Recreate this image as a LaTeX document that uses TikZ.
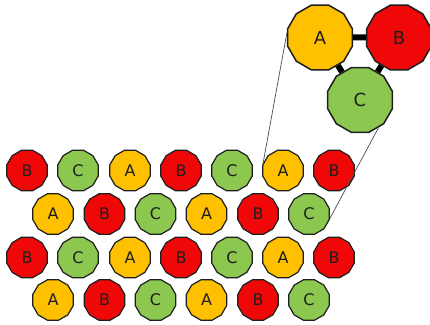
\documentclass[tikz,border=0pt]{standalone}
\usepackage{fontspec}
\setmainfont{DejaVu Sans}
\usetikzlibrary{shapes.geometric,backgrounds}
\definecolor{cA}{RGB}{255,192,0}
\definecolor{cB}{RGB}{240,8,8}
\definecolor{cC}{RGB}{140,200,80}
\definecolor{ink}{RGB}{30,30,30}
\tikzset{
  site/.style={regular polygon, regular polygon sides=12, inner sep=0pt,
    draw=ink, line width=1.2pt, minimum size=42pt, text=ink,
    font=\fontsize{16}{16}\selectfont},
  bigsite/.style={site, minimum size=67pt, line width=1.5pt,
    font=\fontsize{18}{18}\selectfont},
  sA/.style={fill=cA}, sB/.style={fill=cB}, sC/.style={fill=cC},
  bond/.style={line width=6pt, draw=black},
  zoomline/.style={line width=0.7pt, draw=ink!80}
}
\begin{document}
\begin{tikzpicture}[x=1pt,y=-1pt]
\useasboundingbox (0,0) rectangle (430,324);
% lattice rows: B C A B C A B / A B C A B C
\foreach \r/\y in {1/170.5,3/257.5}{
  \foreach \c/\x/\l in {1/27/B,2/78/C,3/130/A,4/181/B,5/232/C,6/283/A,7/334/B}
    \node[site,s\l] (r\r c\c) at (\x,\y) {\l};
}
\foreach \r/\y in {2/214,4/300}{
  \foreach \c/\x/\l in {1/53/A,2/104.5/B,3/155.5/C,4/206.5/A,5/258/B,6/309/C}
    \node[site,s\l] (r\r c\c) at (\x,\y) {\l};
}
% enlarged triangle of sites
\node[bigsite,sA] (bA) at (320,37.5) {A};
\node[bigsite,sB] (bB) at (399,37.5) {B};
\node[bigsite,sC] (bC) at (360,100) {C};
\begin{scope}[on background layer]
  \draw[bond] (bA) -- (bB);
  \draw[bond] (bA) -- (bC);
  \draw[bond] (bB) -- (bC);
\end{scope}
% zoom guide lines
\draw[zoomline] (bA.172) -- (r1c6.160);
\draw[zoomline] (bC.304) -- (r2c6.-12);
\end{tikzpicture}
\end{document}
